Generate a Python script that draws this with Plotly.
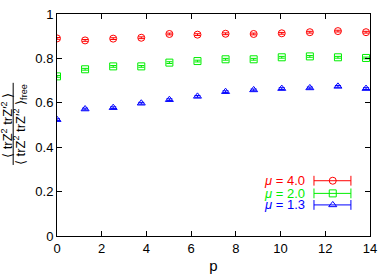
import numpy as np
import plotly.graph_objects as go

p = [0.0, 1.2566, 2.5133, 3.7699, 5.0265, 6.2832, 7.5398, 8.7965, 10.0531, 11.3097, 12.5664, 13.8230]
red = [0.890, 0.881, 0.889, 0.893, 0.910, 0.907, 0.911, 0.910, 0.913, 0.918, 0.923, 0.918]
green = [0.719, 0.751, 0.764, 0.764, 0.781, 0.788, 0.796, 0.796, 0.805, 0.809, 0.805, 0.802]
blue = [0.524, 0.572, 0.578, 0.598, 0.614, 0.629, 0.650, 0.658, 0.664, 0.667, 0.674, 0.664]
err = [0.004] * 12

labels = ["<i>μ</i> = 4.0", "<i>μ</i> = 2.0", "<i>μ</i> = 1.3"]
colors = ["#ff0000", "#00ee00", "#0000ff"]
symbols = ["circle-open", "square-open", "triangle-up-open"]
series = [red, green, blue]

FONT = "Liberation Sans, Arial, sans-serif"
fig = go.Figure()
for ys, c, s in zip(series, colors, symbols):
    fig.add_trace(go.Scatter(
        x=p, y=ys, mode="markers",
        marker=dict(symbol=s, size=7, color=c, line=dict(width=1, color=c)),
        error_y=dict(type="data", array=err, color=c, thickness=1, width=3),
        showlegend=False, xaxis="x", yaxis="y"))

# legend (gnuplot style: text then sample)
leg_y = [0.249, 0.192, 0.140]
for lab, c, s, ly in zip(labels, colors, symbols, leg_y):
    fig.add_annotation(xref="paper", yref="paper", x=0.799, y=ly, text=lab,
                       showarrow=False, xanchor="right", yanchor="middle",
                       font=dict(family=FONT, size=13, color=c))
    fig.add_trace(go.Scatter(
        x=[0.821, 0.939], y=[ly, ly], mode="lines", line=dict(color=c, width=1),
        showlegend=False, xaxis="x2", yaxis="y2", hoverinfo="skip"))
    fig.add_trace(go.Scatter(
        x=[0.821, 0.939], y=[ly, ly], mode="markers",
        marker=dict(symbol="line-ns", size=7, line=dict(color=c, width=1)),
        showlegend=False, xaxis="x2", yaxis="y2", hoverinfo="skip"))
    fig.add_trace(go.Scatter(
        x=[0.881], y=[ly], mode="markers",
        marker=dict(symbol=s, size=7, color=c, line=dict(width=1, color=c)),
        showlegend=False, xaxis="x2", yaxis="y2", hoverinfo="skip"))

axis_common = dict(showline=True, linecolor="black", linewidth=1, mirror="ticks",
                   ticks="inside", ticklen=5, tickcolor="black", showgrid=False,
                   zeroline=False, automargin=False,
                   tickfont=dict(family=FONT, size=13, color="black"))
fig.update_layout(
    width=392, height=274, autosize=False,
    margin=dict(l=57, r=22, t=14, b=38, autoexpand=False),
    paper_bgcolor="white", plot_bgcolor="white",
    xaxis=dict(range=[0, 14], tickvals=[0, 2, 4, 6, 8, 10, 12, 14],
               title=dict(text="p", font=dict(family=FONT, size=15, color="black")),
               **axis_common),
    yaxis=dict(range=[0, 1], tickvals=[0, 0.2, 0.4, 0.6, 0.8, 1],
               ticktext=["0", "0.2", "0.4", "0.6", "0.8", "1"], **axis_common),
    xaxis2=dict(range=[0, 1], overlaying="x", visible=False, domain=[0, 1]),
    yaxis2=dict(range=[0, 1], overlaying="y", visible=False),
)

# y-axis label as a fraction
fig.add_annotation(xref="paper", yref="paper", x=-0.160, y=0.5, xanchor="center", yanchor="middle",
                   text="⟨ trZ<sup>2</sup> trZ′<sup>2</sup> ⟩", textangle=-90, showarrow=False,
                   font=dict(family=FONT, size=13, color="black"))
fig.add_annotation(xref="paper", yref="paper", x=-0.118, y=0.5, xanchor="center", yanchor="middle",
                   text="⟨ trZ<sup>2</sup> trZ′<sup>2</sup> ⟩<sub>free</sub>", textangle=-90, showarrow=False,
                   font=dict(family=FONT, size=13, color="black"))
fig.add_shape(type="line", xref="paper", yref="paper", x0=-0.140, x1=-0.140, y0=0.32, y1=0.69,
              line=dict(color="black", width=1))

fig.write_html("out.html", config={"displayModeBar": False},
               post_script="document.body.style.margin='0';")
